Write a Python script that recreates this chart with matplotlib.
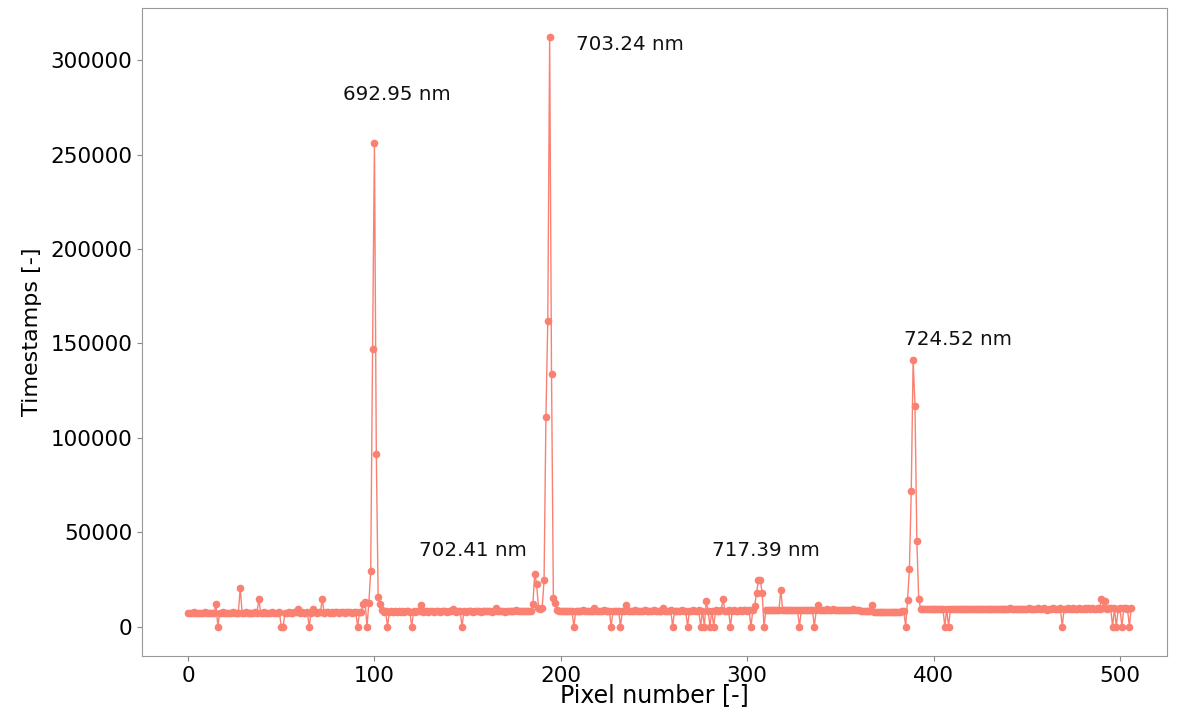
import numpy as np
import matplotlib
matplotlib.use("Agg")
import matplotlib.pyplot as plt

# Timestamps per pixel
timestamps = [
    7300, 7400, 7200, 7500, 7300, 7400, 7300, 7200, 7400, 7500, 7300, 7400, 7300, 7200, 7400, 12000,
    0, 7400, 7300, 7500, 7400, 7300, 7200, 7400, 7500, 7300, 7400, 7300, 20500, 7400, 7300, 7500,
    7400, 7300, 7200, 7400, 7500, 7300, 14500, 7400, 7300, 7500, 7400, 7300, 7400, 7500, 7300, 7400,
    7300, 7500, 0, 0, 7400, 7300, 7500, 7400, 7300, 7600, 7500, 9200, 7400, 7500, 7300, 7400,
    7500, 0, 7400, 9300, 7500, 7400, 7600, 7500, 14500, 7400, 7500, 7600, 7400, 7500, 7300, 7600,
    7500, 7400, 7600, 7500, 7400, 7600, 7500, 7700, 7400, 7600, 7500, 0, 7600, 7800, 12000, 13000,
    0, 12500, 29500, 147000, 256000, 91500, 15500, 12000, 9000, 7900, 8000, 0, 7800, 8000, 7900, 8100,
    7900, 8000, 7800, 8100, 7900, 8000, 8100, 7900, 0, 8000, 7900, 8100, 8000, 11500, 7900, 8000,
    8100, 7900, 8000, 8200, 7900, 8000, 8100, 7900, 8000, 8200, 8000, 7900, 8100, 8000, 9500, 8000,
    7900, 8100, 8000, 0, 8100, 7900, 8000, 8200, 8000, 7900, 8100, 8000, 8200, 7900, 8100, 8000,
    8200, 8000, 8100, 7900, 8200, 9800, 8000, 8100, 8200, 8000, 7900, 8100, 8200, 8000, 8100, 8000,
    9000, 8100, 8000, 8200, 8100, 8000, 8300, 8100, 8200, 12000, 28000, 22500, 10000, 9500, 10000, 24500,
    111000, 162000, 312000, 134000, 15000, 12500, 9000, 8300, 8200, 8400, 8300, 8200, 8400, 8300, 8200, 0,
    8300, 8400, 8200, 8300, 8500, 8300, 8200, 8400, 8300, 8200, 10000, 8300, 8400, 8200, 8300, 8500,
    8300, 8200, 8400, 0, 8300, 8200, 8400, 8300, 0, 8200, 8400, 11500, 8300, 8200, 8400, 8300,
    8500, 8300, 8400, 8200, 8300, 8500, 8300, 8400, 8200, 8300, 8500, 8400, 8300, 8200, 8400, 10000,
    8300, 8400, 8200, 8500, 0, 8300, 8400, 8200, 8300, 8500, 8400, 8300, 0, 8400, 8300, 8500,
    8400, 8300, 8500, 0, 8400, 0, 13500, 8300, 0, 8400, 0, 8500, 8400, 8300, 8500, 14500,
    8400, 8300, 8500, 0, 8400, 8600, 8400, 8300, 8500, 8400, 8600, 8500, 8400, 8600, 0, 8500,
    11000, 18000, 24500, 24500, 18000, 0, 8600, 8500, 8700, 8600, 8500, 8700, 8600, 8500, 19500, 8600,
    8700, 8500, 8600, 8800, 8600, 8500, 8700, 8600, 0, 8500, 8700, 8600, 8800, 8600, 8500, 8700,
    0, 8600, 11500, 8700, 8600, 8800, 8700, 9500, 8600, 8800, 9500, 8700, 8600, 8800, 8700, 8600,
    8800, 8700, 8600, 8800, 8700, 9500, 8700, 8600, 8500, 8400, 8300, 8200, 8100, 8000, 8000, 11500,
    7900, 7800, 7900, 7700, 7800, 7900, 7700, 7800, 7700, 7900, 7800, 7700, 7800, 7900, 7800, 8000,
    8200, 0, 14000, 30500, 72000, 141000, 117000, 45500, 14500, 9500, 9200, 9300, 9100, 9300, 9200, 9400,
    9200, 9300, 9100, 9400, 9200, 9300, 0, 9400, 0, 9200, 9300, 9100, 9400, 9200, 9300, 9400,
    9200, 9300, 9400, 9200, 9300, 9500, 9300, 9200, 9400, 9300, 9500, 9200, 9400, 9300, 9200, 9400,
    9300, 9500, 9400, 9300, 9200, 9400, 9500, 9300, 9400, 10000, 9300, 9500, 9400, 9300, 9500, 9400,
    9300, 9500, 9400, 9600, 9300, 9400, 9500, 9300, 9600, 9400, 9500, 10000, 9400, 8600, 9500, 9400,
    9600, 9400, 9500, 9300, 9600, 0, 9500, 9400, 9600, 9500, 9300, 9600, 9500, 9400, 9600, 9500,
    9400, 9600, 9500, 9700, 9400, 9600, 9500, 9400, 9700, 9500, 14500, 9600, 13500, 9500, 9700, 9600,
    0, 9600, 0, 9500, 9600, 0, 9700, 9600, 9500, 0, 9600,
]

peak_labels = ["692.95 nm", "703.24 nm", "702.41 nm", "717.39 nm", "724.52 nm"]

pixels = np.arange(len(timestamps))

fig = plt.figure(figsize=(11.84, 7.13), dpi=100)
ax = fig.add_axes([142 / 1184, 1 - 656 / 713, (1167 - 142) / 1184, (656 - 8) / 713])

ax.plot(pixels, timestamps, color="salmon", linewidth=1.0, marker="o", markersize=4.5)

# annotation anchor points (layout)
label_xy = [(112, 282000), (237, 308500), (153, 40400), (310, 40400), (413, 152000)]
for lab, (lx, ly) in zip(peak_labels, label_xy):
    ax.text(lx, ly, lab, fontsize=14.3, ha="center", va="center", color="#111111")

ax.set_xlim(-24.7, 525.2)
ax.set_xlabel("Pixel number [-]", fontsize=17, labelpad=-2)
ax.set_ylabel("Timestamps [-]", fontsize=16, labelpad=6)
ax.tick_params(axis="both", labelsize=15.5, color="#888888")
for s in ax.spines.values():
    s.set_color("#999999")

fig.savefig("out.png", dpi=100)
